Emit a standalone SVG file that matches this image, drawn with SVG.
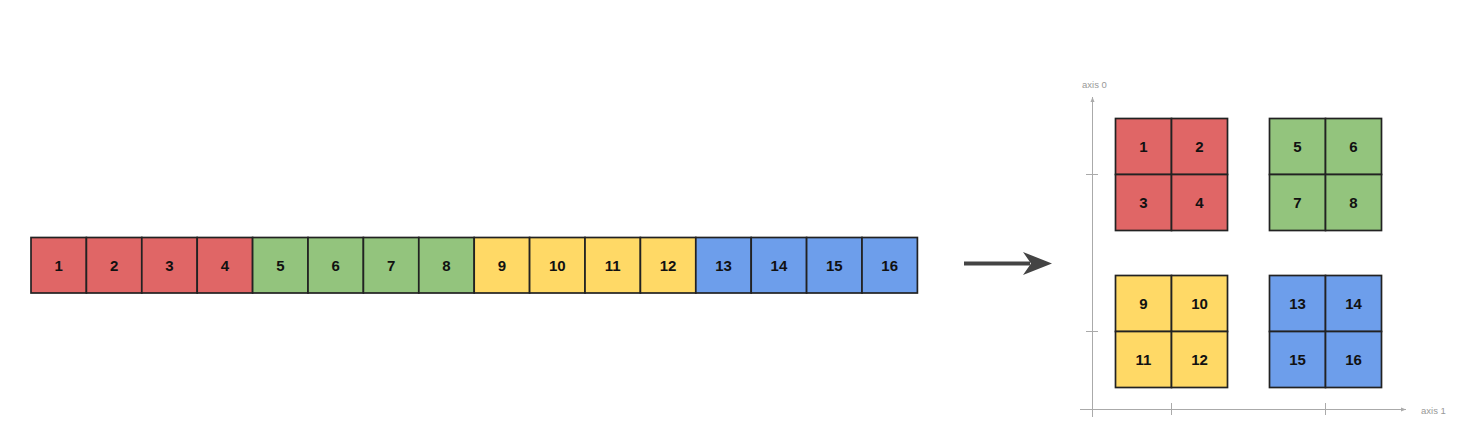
<svg xmlns="http://www.w3.org/2000/svg" width="1462" height="441" viewBox="0 0 1462 441">
<style>
.c{stroke:#222;stroke-width:1.7}
.r{fill:#e06666}.g{fill:#93c47d}.y{fill:#ffd966}.b{fill:#6d9eeb}
.t{font-family:"Liberation Sans",Arial,sans-serif;font-weight:bold;font-size:15px;fill:#111;text-anchor:middle;dominant-baseline:central}
.ax{stroke:#aaa;stroke-width:1;fill:none}
.al{font-family:"Liberation Sans",Arial,sans-serif;font-size:9.5px;fill:#999;dominant-baseline:central}
</style>
<defs>
<marker id="sa" markerWidth="6" markerHeight="6" refX="5" refY="3" orient="auto" markerUnits="userSpaceOnUse">
<path d="M0,1 L5,3 L0,5 Z" fill="#aaa"/>
</marker>
</defs>
<rect width="1462" height="441" fill="#fff"/>
<g id="strip">
<g id="s1"><rect class="c r" x="31" y="237.5" width="55.4" height="55.5"/><text class="t" x="58.7" y="265.5">1</text></g>
<g id="s2"><rect class="c r" x="86.4" y="237.5" width="55.4" height="55.5"/><text class="t" x="114.1" y="265.5">2</text></g>
<g id="s3"><rect class="c r" x="141.8" y="237.5" width="55.4" height="55.5"/><text class="t" x="169.5" y="265.5">3</text></g>
<g id="s4"><rect class="c r" x="197.2" y="237.5" width="55.4" height="55.5"/><text class="t" x="224.9" y="265.5">4</text></g>
<g id="s5"><rect class="c g" x="252.6" y="237.5" width="55.4" height="55.5"/><text class="t" x="280.3" y="265.5">5</text></g>
<g id="s6"><rect class="c g" x="308" y="237.5" width="55.4" height="55.5"/><text class="t" x="335.7" y="265.5">6</text></g>
<g id="s7"><rect class="c g" x="363.4" y="237.5" width="55.4" height="55.5"/><text class="t" x="391.1" y="265.5">7</text></g>
<g id="s8"><rect class="c g" x="418.8" y="237.5" width="55.4" height="55.5"/><text class="t" x="446.5" y="265.5">8</text></g>
<g id="s9"><rect class="c y" x="474.2" y="237.5" width="55.4" height="55.5"/><text class="t" x="501.9" y="265.5">9</text></g>
<g id="s10"><rect class="c y" x="529.6" y="237.5" width="55.4" height="55.5"/><text class="t" x="557.3" y="265.5">10</text></g>
<g id="s11"><rect class="c y" x="585" y="237.5" width="55.4" height="55.5"/><text class="t" x="612.7" y="265.5">11</text></g>
<g id="s12"><rect class="c y" x="640.4" y="237.5" width="55.4" height="55.5"/><text class="t" x="668.1" y="265.5">12</text></g>
<g id="s13"><rect class="c b" x="695.8" y="237.5" width="55.4" height="55.5"/><text class="t" x="723.5" y="265.5">13</text></g>
<g id="s14"><rect class="c b" x="751.2" y="237.5" width="55.4" height="55.5"/><text class="t" x="778.9" y="265.5">14</text></g>
<g id="s15"><rect class="c b" x="806.6" y="237.5" width="55.4" height="55.5"/><text class="t" x="834.3" y="265.5">15</text></g>
<g id="s16"><rect class="c b" x="862" y="237.5" width="55.4" height="55.5"/><text class="t" x="889.7" y="265.5">16</text></g>
</g>
<g id="connectors">
<line x1="964" y1="263.5" x2="1030" y2="263.5" stroke="#444" stroke-width="4"/>
<path d="M1052,263.5 L1023,252 L1031,263.5 L1023,275 Z" fill="#444"/>
</g>
<g id="axes">
<line class="ax" x1="1092.5" y1="417" x2="1092.5" y2="97" marker-end="url(#sa)"/>
<line class="ax" x1="1080" y1="409.5" x2="1406" y2="409.5" marker-end="url(#sa)"/>
<line class="ax" x1="1086" y1="174.5" x2="1098" y2="174.5"/>
<line class="ax" x1="1086" y1="331.5" x2="1098" y2="331.5"/>
<line class="ax" x1="1171.5" y1="403" x2="1171.5" y2="415"/>
<line class="ax" x1="1325.5" y1="403" x2="1325.5" y2="415"/>
<text class="al" x="1082" y="84">axis 0</text>
<text class="al" x="1421" y="410">axis 1</text>
</g>
<g id="g1">
<rect class="c r" x="1115.5" y="118.5" width="56" height="56"/><text class="t" x="1143.5" y="146.5">1</text>
<rect class="c r" x="1171.5" y="118.5" width="56" height="56"/><text class="t" x="1199.5" y="146.5">2</text>
<rect class="c r" x="1115.5" y="174.5" width="56" height="56"/><text class="t" x="1143.5" y="202.5">3</text>
<rect class="c r" x="1171.5" y="174.5" width="56" height="56"/><text class="t" x="1199.5" y="202.5">4</text>
</g>
<g id="g2">
<rect class="c g" x="1269.5" y="118.5" width="56" height="56"/><text class="t" x="1297.5" y="146.5">5</text>
<rect class="c g" x="1325.5" y="118.5" width="56" height="56"/><text class="t" x="1353.5" y="146.5">6</text>
<rect class="c g" x="1269.5" y="174.5" width="56" height="56"/><text class="t" x="1297.5" y="202.5">7</text>
<rect class="c g" x="1325.5" y="174.5" width="56" height="56"/><text class="t" x="1353.5" y="202.5">8</text>
</g>
<g id="g3">
<rect class="c y" x="1115.5" y="275.5" width="56" height="56"/><text class="t" x="1143.5" y="303.5">9</text>
<rect class="c y" x="1171.5" y="275.5" width="56" height="56"/><text class="t" x="1199.5" y="303.5">10</text>
<rect class="c y" x="1115.5" y="331.5" width="56" height="56"/><text class="t" x="1143.5" y="359.5">11</text>
<rect class="c y" x="1171.5" y="331.5" width="56" height="56"/><text class="t" x="1199.5" y="359.5">12</text>
</g>
<g id="g4">
<rect class="c b" x="1269.5" y="275.5" width="56" height="56"/><text class="t" x="1297.5" y="303.5">13</text>
<rect class="c b" x="1325.5" y="275.5" width="56" height="56"/><text class="t" x="1353.5" y="303.5">14</text>
<rect class="c b" x="1269.5" y="331.5" width="56" height="56"/><text class="t" x="1297.5" y="359.5">15</text>
<rect class="c b" x="1325.5" y="331.5" width="56" height="56"/><text class="t" x="1353.5" y="359.5">16</text>
</g>
</svg>
